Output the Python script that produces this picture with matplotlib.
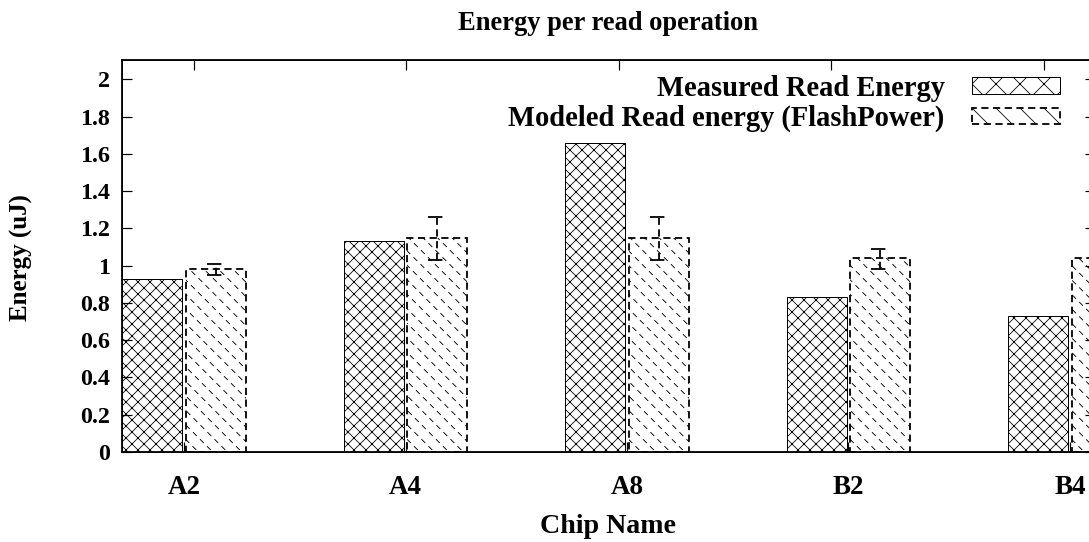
import numpy as np
import matplotlib
matplotlib.use("Agg")
import matplotlib.pyplot as plt
from matplotlib.patches import Patch

# values
chips = ["A2", "A4", "A8", "B2", "B4"]
measured = [0.93, 1.13, 1.66, 0.83, 0.73]
modeled = [0.98, 1.15, 1.15, 1.04, 1.04]
err_low = [0.95, 1.03, 1.03, 0.98, 0.98]
err_high = [1.01, 1.26, 1.26, 1.09, 1.09]
yticks = [0, 0.2, 0.4, 0.6, 0.8, 1, 1.2, 1.4, 1.6, 1.8, 2]

plt.rcParams['font.family'] = ['Liberation Serif', 'DejaVu Serif']
plt.rcParams['font.weight'] = 'bold'
plt.rcParams['hatch.linewidth'] = 0.8

fs = 27
fig = plt.figure(figsize=(1089 / 72, 542 / 72), dpi=72)
ax = fig.add_axes([122 / 1089, 90 / 542, 973 / 1089, 392 / 542])
ax.set_xlim(-0.28, 4.113)
ax.set_ylim(0, 2.104)

x = np.arange(len(chips))
w = 0.27
off = 0.143
dash = (0, (4, 2.5))

ax.bar(x - off, measured, w, facecolor='white', edgecolor='black',
       linewidth=1.0, hatch='xx')
b2 = ax.bar(x + off, modeled, w, facecolor='white', edgecolor='black',
            linewidth=1.8, linestyle=dash)

# dashed diagonal hatching, clipped to each modeled bar
inv = ax.transData.inverted()
for p in b2:
    (X0, Y0), (X1, Y1) = ax.transData.transform(
        [(p.get_x(), 0), (p.get_x() + p.get_width(), p.get_height())])
    for c in np.arange(X0 + Y0 - 2, X1 + Y1, 14.5):
        pts = inv.transform([(c - (Y0 - 5), Y0 - 5), (c - (Y1 + 5), Y1 + 5)])
        ln, = ax.plot(pts[:, 0], pts[:, 1], color='black', lw=0.9,
                      ls=(0, (6, 5)), zorder=p.get_zorder() + 0.1)
        ln.set_clip_path(p)

# dashed error bars
yerr = np.array([np.array(modeled) - np.array(err_low),
                 np.array(err_high) - np.array(modeled)])
eb = ax.errorbar(x + off, modeled, yerr=yerr, fmt='none', ecolor='black',
                 elinewidth=1.8, capsize=0)
eb[2][0].set_linestyle(dash)
for xi, lo, hi in zip(x + off, err_low, err_high):
    ax.plot([xi - 0.04, xi + 0.04], [hi, hi], color='black', lw=1.8, ls=(0, (8, 2)))
    ax.plot([xi - 0.04, xi + 0.04], [lo, lo], color='black', lw=1.8, ls=(0, (8, 2)))

ax.set_xticks(x)
ax.set_xticklabels(chips, fontsize=fs, fontweight='bold')
ax.set_yticks(yticks)
ax.set_yticklabels([f"{v:g}" for v in yticks], fontsize=24, fontweight='bold')
ax.tick_params(axis='both', direction='in', length=10, width=1.2, right=True)
ax.tick_params(axis='x', pad=23)
ax.tick_params(axis='y', pad=12)
for s in ax.spines.values():
    s.set_linewidth(1.8)

top = ax.twiny()
top.set_xlim(ax.get_xlim())
top.set_xticks(0.045 + x * 0.959)
top.set_xticklabels([])
top.tick_params(axis='x', direction='in', length=10, width=1.2)

ax.set_title("Energy per read operation", fontsize=26.5, fontweight='bold', pad=30,
             x=(608 - 122) / 973)
ax.set_xlabel("Chip Name", fontsize=28, fontweight='bold')
ax.xaxis.set_label_coords((608 - 122) / 973, -0.158)
ax.set_ylabel("Energy (uJ)", fontsize=25, fontweight='bold')
ax.yaxis.set_label_coords(-0.0915, 0.495)

h1 = Patch(facecolor='white', edgecolor='black', linewidth=1.0, hatch='x')
h2 = Patch(facecolor='white', edgecolor='black', linewidth=1.8, linestyle=dash,
           hatch='\\')
ax.legend([h1, h2], ['Measured Read Energy', 'Modeled Read energy (FlashPower)'],
          loc='upper right', bbox_to_anchor=((1060 - 122) / 973, 0.963),
          frameon=False, markerfirst=False, fontsize=28.5,
          handlelength=3.1, handleheight=0.5, handletextpad=0.95,
          labelspacing=0.12, borderaxespad=0, borderpad=0)

fig.savefig("out.png", dpi=72)
